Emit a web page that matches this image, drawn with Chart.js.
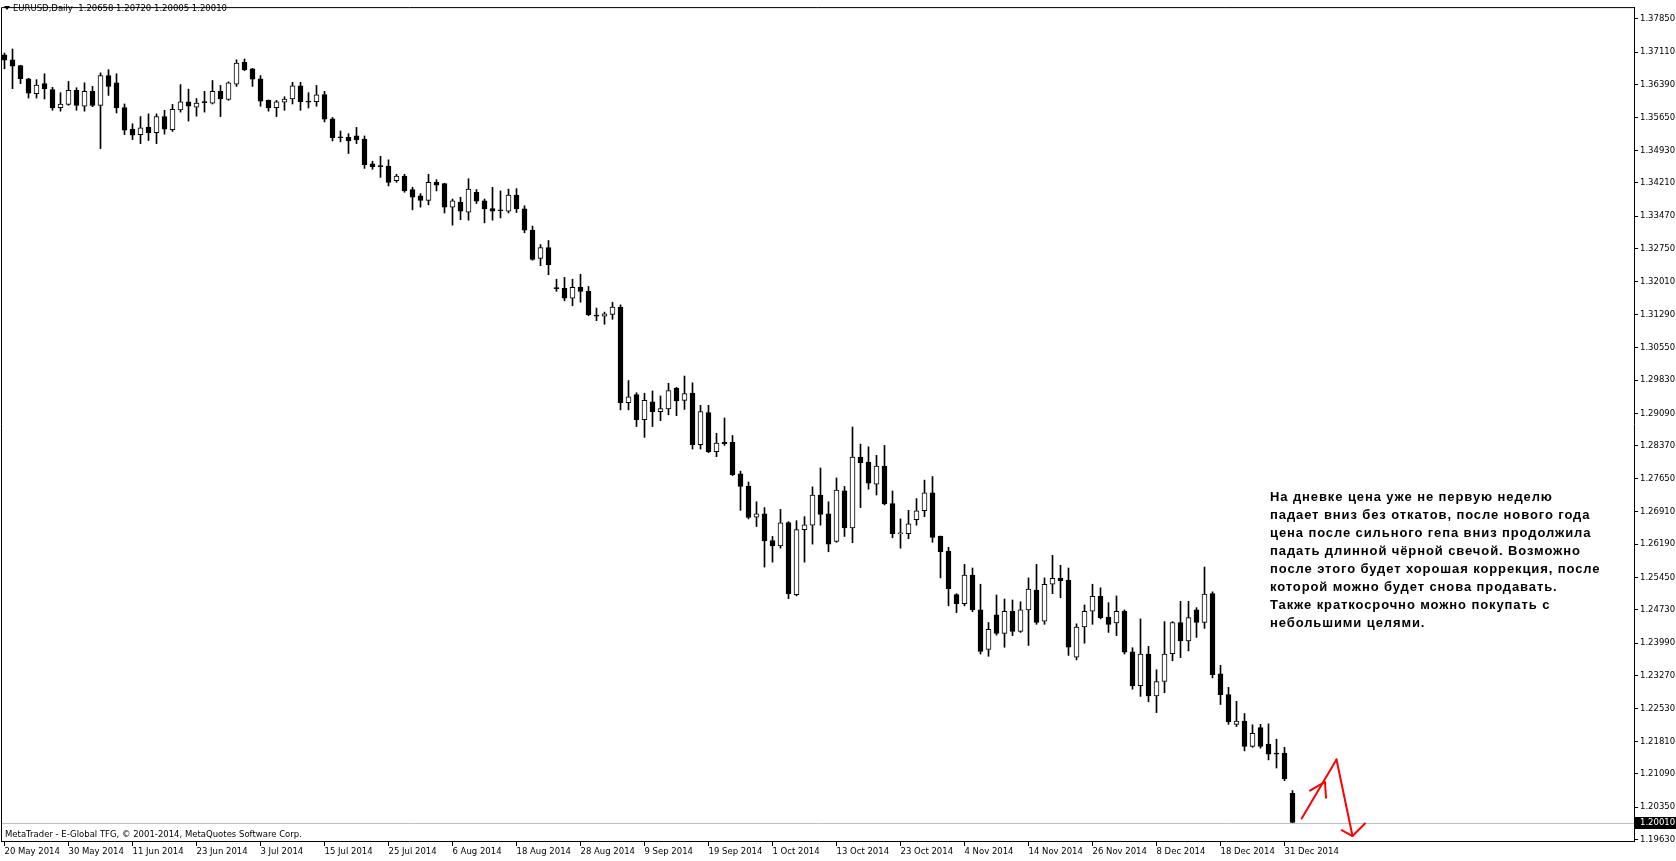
<!DOCTYPE html>
<html>
<head>
<meta charset="utf-8">
<title>EURUSD,Daily</title>
<script src="https://cdn.jsdelivr.net/npm/chart.js@4.4.1/dist/chart.umd.min.js"></script>
<style>
	html, body {margin: 0; padding: 0; background: #ffffff;}
	canvas {display: block;}
</style>
</head>
<body>
<canvas id="chart" width="1676" height="861"></canvas>
<script>
const symbol = "EURUSD,Daily";

// one label every 8 bars, starting at bar 0
const tickDates = ["20 May 2014", "30 May 2014", "11 Jun 2014", "23 Jun 2014", "3 Jul 2014", "15 Jul 2014", "25 Jul 2014",
	"6 Aug 2014", "18 Aug 2014", "28 Aug 2014", "9 Sep 2014", "19 Sep 2014", "1 Oct 2014", "13 Oct 2014", "23 Oct 2014",
	"4 Nov 2014", "14 Nov 2014", "26 Nov 2014", "8 Dec 2014", "18 Dec 2014", "31 Dec 2014"];

const priceTicks = [1.37850, 1.37110, 1.36390, 1.35650, 1.34930, 1.34210, 1.33470, 1.32750, 1.32010, 1.31290, 1.30550,
	1.29830, 1.29090, 1.28370, 1.27650, 1.26910, 1.26190, 1.25450, 1.24730, 1.23990, 1.23270, 1.22530, 1.21810,
	1.21090, 1.20350, 1.19630];

const opens = [
	1.3705, 1.3694, 1.3681, 1.3652, 1.3619, 1.3641, 1.3628, 1.3588, 1.3595, 1.3626, 1.3591, 1.3624, 1.3593, 1.3659, 1.3643, 1.3588,
	1.3540, 1.3528, 1.3544, 1.3532, 1.3568, 1.3539, 1.3583, 1.3601, 1.3589, 1.3600, 1.3598, 1.3624, 1.3606, 1.3640, 1.3689, 1.3674,
	1.3652, 1.3604, 1.3588, 1.3600, 1.3607, 1.3636, 1.3601, 1.3601, 1.3617, 1.3563, 1.3522, 1.3522, 1.3525, 1.3518, 1.3463, 1.3458,
	1.3458, 1.3426, 1.3436, 1.3406, 1.3392, 1.3382, 1.3422, 1.3419, 1.3367, 1.3378, 1.3356, 1.3400, 1.3381, 1.3364, 1.3359, 1.3358,
	1.3394, 1.3363, 1.3316, 1.3253, 1.3277, 1.3187, 1.3187, 1.3165, 1.3189, 1.3180, 1.3126, 1.3125, 1.3129, 1.3145, 1.2933, 1.2951,
	1.2895, 1.2935, 1.2913, 1.2919, 1.2965, 1.2938, 1.2954, 1.2840, 1.2911, 1.2824, 1.2845, 1.2845, 1.2775, 1.2748, 1.2679, 1.2686,
	1.2627, 1.2615, 1.2667, 1.2507, 1.2651, 1.2661, 1.2728, 1.2686, 1.2625, 1.2737, 1.2655, 1.2812, 1.2801, 1.2752, 1.2792, 1.2709,
	1.2642, 1.2642, 1.2673, 1.2693, 1.2733, 1.2636, 1.2603, 1.2507, 1.2487, 1.2550, 1.2473, 1.2385, 1.2462, 1.2421, 1.2470, 1.2425,
	1.2473, 1.2517, 1.2448, 1.2530, 1.2543, 1.2539, 1.2368, 1.2435, 1.2470, 1.2503, 1.2457, 1.2444, 1.2470, 1.2380, 1.2305, 1.2375,
	1.2282, 1.2314, 1.2376, 1.2445, 1.2404, 1.2473, 1.2445, 1.2509, 1.2331, 1.2285, 1.2219, 1.2226, 1.2170, 1.2212, 1.2175, 1.2154,
	1.2155, 1.20658];
const highs = [
	1.3709, 1.3718, 1.3682, 1.3653, 1.3650, 1.3663, 1.3633, 1.3621, 1.3646, 1.3632, 1.3643, 1.3635, 1.3665, 1.3672, 1.3663, 1.3596,
	1.3552, 1.3568, 1.3574, 1.3574, 1.3582, 1.3595, 1.3639, 1.3629, 1.3608, 1.3624, 1.3648, 1.3637, 1.3645, 1.3694, 1.3696, 1.3675,
	1.3659, 1.3605, 1.3604, 1.3612, 1.3644, 1.3644, 1.3621, 1.3637, 1.3624, 1.3566, 1.3536, 1.3530, 1.3544, 1.3525, 1.3469, 1.3480,
	1.3472, 1.3440, 1.3440, 1.3411, 1.3397, 1.3440, 1.3428, 1.3420, 1.3385, 1.3389, 1.3430, 1.3406, 1.3385, 1.3411, 1.3403, 1.3407,
	1.3408, 1.3370, 1.3325, 1.3284, 1.3293, 1.3207, 1.3211, 1.3207, 1.3218, 1.3191, 1.3143, 1.3134, 1.3156, 1.3150, 1.2982, 1.2955,
	1.2954, 1.2959, 1.2948, 1.2976, 1.2967, 1.2992, 1.2977, 1.2927, 1.2927, 1.2865, 1.2899, 1.2860, 1.2781, 1.2757, 1.2713, 1.2700,
	1.2636, 1.2696, 1.2669, 1.2671, 1.2680, 1.2746, 1.2788, 1.2713, 1.2766, 1.2747, 1.2879, 1.2841, 1.2835, 1.2816, 1.2838, 1.2737,
	1.2675, 1.2694, 1.2720, 1.2761, 1.2769, 1.2637, 1.2612, 1.2509, 1.2574, 1.2566, 1.2530, 1.2445, 1.2506, 1.2497, 1.2495, 1.2491,
	1.2544, 1.2574, 1.2544, 1.2594, 1.2572, 1.2566, 1.2442, 1.2484, 1.2530, 1.2522, 1.2489, 1.2504, 1.2473, 1.2389, 1.2453, 1.2392,
	1.2340, 1.2447, 1.2447, 1.2492, 1.2492, 1.2478, 1.2568, 1.2513, 1.2350, 1.2301, 1.2270, 1.2243, 1.2218, 1.2219, 1.2220, 1.2186,
	1.2168, 1.20720];
const lows = [
	1.3674, 1.3630, 1.3641, 1.3609, 1.3609, 1.3607, 1.3582, 1.3580, 1.3593, 1.3582, 1.3580, 1.3590, 1.3497, 1.3615, 1.3576, 1.3528,
	1.3517, 1.3508, 1.3515, 1.3508, 1.3529, 1.3535, 1.3578, 1.3558, 1.3569, 1.3578, 1.3596, 1.3568, 1.3604, 1.3635, 1.3670, 1.3635,
	1.3591, 1.3580, 1.3568, 1.3582, 1.3596, 1.3582, 1.3587, 1.3591, 1.3556, 1.3514, 1.3512, 1.3486, 1.3508, 1.3453, 1.3451, 1.3433,
	1.3414, 1.3422, 1.3400, 1.3361, 1.3367, 1.3372, 1.3403, 1.3354, 1.3327, 1.3339, 1.3338, 1.3375, 1.3332, 1.3338, 1.3343, 1.3354,
	1.3355, 1.3310, 1.3249, 1.3237, 1.3217, 1.3180, 1.3159, 1.3148, 1.3156, 1.3126, 1.3115, 1.3107, 1.3118, 1.2917, 1.2917, 1.2880,
	1.2856, 1.2880, 1.2893, 1.2906, 1.2904, 1.2918, 1.2830, 1.2830, 1.2822, 1.2813, 1.2838, 1.2771, 1.2694, 1.2675, 1.2658, 1.2568,
	1.2579, 1.2610, 1.2498, 1.2504, 1.2579, 1.2619, 1.2661, 1.2602, 1.2623, 1.2636, 1.2622, 1.2700, 1.2741, 1.2728, 1.2706, 1.2633,
	1.2610, 1.2631, 1.2661, 1.2680, 1.2623, 1.2544, 1.2482, 1.2467, 1.2482, 1.2469, 1.2375, 1.2370, 1.2417, 1.2390, 1.2416, 1.2423,
	1.2394, 1.2441, 1.2441, 1.2509, 1.2500, 1.2372, 1.2362, 1.2399, 1.2441, 1.2453, 1.2423, 1.2416, 1.2375, 1.2297, 1.2281, 1.2269,
	1.2245, 1.2289, 1.2360, 1.2367, 1.2382, 1.2412, 1.2432, 1.2322, 1.2263, 1.2219, 1.2214, 1.2160, 1.2168, 1.2166, 1.2140, 1.2122,
	1.2094, 1.20005];
const closes = [
	1.3693, 1.3680, 1.3652, 1.3620, 1.3638, 1.3630, 1.3587, 1.3596, 1.3626, 1.3593, 1.3624, 1.3593, 1.3659, 1.3635, 1.3587, 1.3538,
	1.3527, 1.3543, 1.3532, 1.3568, 1.3540, 1.3584, 1.3601, 1.3591, 1.3598, 1.3599, 1.3624, 1.3607, 1.3643, 1.3687, 1.3672, 1.3651,
	1.3602, 1.3587, 1.3601, 1.3607, 1.3636, 1.3601, 1.3600, 1.3616, 1.3562, 1.3521, 1.3521, 1.3514, 1.3516, 1.3461, 1.3457, 1.3457,
	1.3422, 1.3436, 1.3403, 1.3389, 1.3382, 1.3422, 1.3416, 1.3367, 1.3381, 1.3358, 1.3407, 1.3380, 1.3363, 1.3358, 1.3359, 1.3394,
	1.3363, 1.3316, 1.3251, 1.3277, 1.3239, 1.3186, 1.3165, 1.3189, 1.3180, 1.3128, 1.3125, 1.3130, 1.3145, 1.2933, 1.2946, 1.2895,
	1.2938, 1.2913, 1.2920, 1.2960, 1.2937, 1.2953, 1.2840, 1.2913, 1.2824, 1.2843, 1.2842, 1.2773, 1.2747, 1.2678, 1.2686, 1.2626,
	1.2615, 1.2666, 1.2509, 1.2651, 1.2662, 1.2728, 1.2685, 1.2619, 1.2739, 1.2655, 1.2812, 1.2800, 1.2754, 1.2792, 1.2708, 1.2642,
	1.2643, 1.2664, 1.2693, 1.2733, 1.2634, 1.2602, 1.2520, 1.2487, 1.2550, 1.2473, 1.2381, 1.2430, 1.2421, 1.2470, 1.2425, 1.2473,
	1.2519, 1.2445, 1.2530, 1.2543, 1.2538, 1.2390, 1.2435, 1.2470, 1.2503, 1.2456, 1.2441, 1.2470, 1.2379, 1.2304, 1.2375, 1.2282,
	1.2314, 1.2375, 1.2445, 1.2404, 1.2456, 1.2445, 1.2508, 1.2329, 1.2285, 1.2225, 1.2226, 1.2170, 1.2199, 1.2170, 1.2153, 1.2153,
	1.2098, 1.20010];

const note = [
	"На дневке цена уже не первую неделю",
	"падает вниз без откатов, после нового года",
	"цена после сильного гепа вниз продолжила",
	"падать длинной чёрной свечой. Возможно",
	"после этого будет хорошая коррекция, после",
	"которой можно будет снова продавать.",
	"Также краткосрочно можно покупать с",
	"небольшими целями.",
];
const footer = "MetaTrader - E-Global TFG, \u00a9 2001-2014, MetaQuotes Software Corp.";

// hand drawn red arrows, as [bar, price] points
const arrowUp = [[162.15, 1.2010], [166.5, 1.2141]];
const arrowUpHead = [[163.19, 1.2072], [165.06, 1.2091], [165.19, 1.2056]];
const arrowDown = [[166.5, 1.2141], [168.5, 1.1971]];
const arrowDownHead = [[167.15, 1.1984], [168.5, 1.1971], [170.06, 1.1999]];

const axisFont = {"family": "DejaVu Sans", "size": 8.5};
const last = closes.length - 1;

const wicks = highs.map((h, i) => ({"x": i, "y": [lows[i], h]}));
const bodies = opens.map((o, i) => ({"x": i, "y": [Math.min(o, closes[i]), Math.max(o, closes[i])]}));
const bodyColors = opens.map((o, i) => closes[i] > o ? "#ffffff" : "#000000");

function polyline(ctx, chart, points) {
	const xs = chart.scales.x;
	const ys = chart.scales.y;
	ctx.beginPath();
	points.forEach(([b, p], k) => {
		const px = xs.getPixelForValue(b);
		const py = ys.getPixelForValue(p);
		if (k == 0) {
			ctx.moveTo(px, py);
		} else {
			ctx.lineTo(px, py);
		}
	});
	ctx.stroke();
}

const terminal = {
	"id": "terminal",
	beforeDatasetsDraw(chart) {
		const ctx = chart.ctx;
		const area = chart.chartArea;
		// current price line
		const py = Math.round(chart.scales.y.getPixelForValue(closes[last])) + 0.5;
		ctx.save();
		ctx.strokeStyle = "#c0c0c0";
		ctx.lineWidth = 1;
		ctx.beginPath();
		ctx.moveTo(area.left, py);
		ctx.lineTo(area.right, py);
		ctx.stroke();
		ctx.restore();
	},
	afterDraw(chart) {
		const ctx = chart.ctx;
		const area = chart.chartArea;
		ctx.save();

		// window frame
		ctx.strokeStyle = "#000000";
		ctx.lineWidth = 1;
		ctx.beginPath();
		ctx.moveTo(area.left + 0.5, area.bottom);
		ctx.lineTo(area.left + 0.5, area.top + 0.5);
		ctx.lineTo(area.right, area.top + 0.5);
		ctx.stroke();

		// header
		ctx.fillStyle = "#000000";
		ctx.font = "8.5px 'DejaVu Sans'";
		ctx.textBaseline = "middle";
		ctx.textAlign = "left";
		ctx.beginPath();
		ctx.moveTo(4, 6);
		ctx.lineTo(10, 6);
		ctx.lineTo(7, 10);
		ctx.closePath();
		ctx.fill();
		const ohlc = [opens[last], highs[last], lows[last], closes[last]].map((v) => v.toFixed(5)).join(" ");
		ctx.fillText(symbol + "  " + ohlc, 13, 9);

		// footer
		ctx.fillText(footer, 5, 835);

		// current price box on the axis
		const py = Math.round(chart.scales.y.getPixelForValue(closes[last]));
		ctx.fillRect(area.right + 1, py - 6, chart.width - area.right - 1, 12);
		ctx.fillStyle = "#ffffff";
		ctx.fillText(closes[last].toFixed(5), area.right + 6, py);

		// comment
		ctx.fillStyle = "#000000";
		ctx.font = "bold 13px 'Liberation Sans'";
		ctx.letterSpacing = "0.9px";
		note.forEach((line, k) => ctx.fillText(line, 1270, 497 + k * 18.1));
		ctx.letterSpacing = "0px";

		// arrows
		ctx.strokeStyle = "#ff0000";
		ctx.lineWidth = 2;
		ctx.lineJoin = "round";
		ctx.lineCap = "round";
		polyline(ctx, chart, arrowUp);
		polyline(ctx, chart, arrowUpHead);
		polyline(ctx, chart, arrowDown);
		polyline(ctx, chart, arrowDownHead);

		ctx.restore();
	},
};

new Chart(document.getElementById("chart"), {
	"type": "bar",
	"data": {
		"datasets": [
			{
				"label": "body",
				"data": bodies,
				"backgroundColor": bodyColors,
				"borderColor": "#000000",
				"borderWidth": 1,
				"borderSkipped": false,
				"barThickness": 5,
				"minBarLength": 1,
				"grouped": false,
				"order": 0,
			},
			{
				"label": "wick",
				"data": wicks,
				"backgroundColor": "#000000",
				"borderWidth": 0,
				"barThickness": 1,
				"grouped": false,
				"order": 1,
			},
		],
	},
	"options": {
		"responsive": false,
		"animation": false,
		"events": [],
		"layout": {"padding": {"top": 1, "left": 1, "right": 0, "bottom": 0}},
		"plugins": {
			"legend": {"display": false},
			"tooltip": {"enabled": false},
		},
		"scales": {
			"x": {
				"type": "linear",
				"offset": false,
				"min": -0.4375,
				"max": 203.6875,
				"afterBuildTicks": (scale) => {
					scale.ticks = tickDates.map((_, k) => ({"value": k * 8}));
				},
				"afterFit": (scale) => {
					scale.height = 20;
				},
				"ticks": {
					"callback": (value) => tickDates[Math.round(value / 8)],
					"align": "start",
					"autoSkip": false,
					"maxRotation": 0,
					"padding": 1,
					"color": "#000000",
					"font": axisFont,
				},
				"grid": {"drawOnChartArea": false, "offset": false, "tickLength": 5, "color": "#000000"},
				"border": {"color": "#000000"},
			},
			"y": {
				"type": "linear",
				"position": "right",
				"beginAtZero": false,
				"min": 1.19600,
				"max": 1.38110,
				"afterBuildTicks": (scale) => {
					scale.ticks = priceTicks.map((v) => ({"value": v}));
				},
				"afterFit": (scale) => {
					scale.width = 42;
				},
				"ticks": {
					"callback": (value) => value.toFixed(5),
					"autoSkip": false,
					"padding": 2,
					"color": "#000000",
					"font": axisFont,
				},
				"grid": {"drawOnChartArea": false, "tickLength": 4, "color": "#000000"},
				"border": {"color": "#000000"},
			},
		},
	},
	"plugins": [terminal],
});
</script>
</body>
</html>
